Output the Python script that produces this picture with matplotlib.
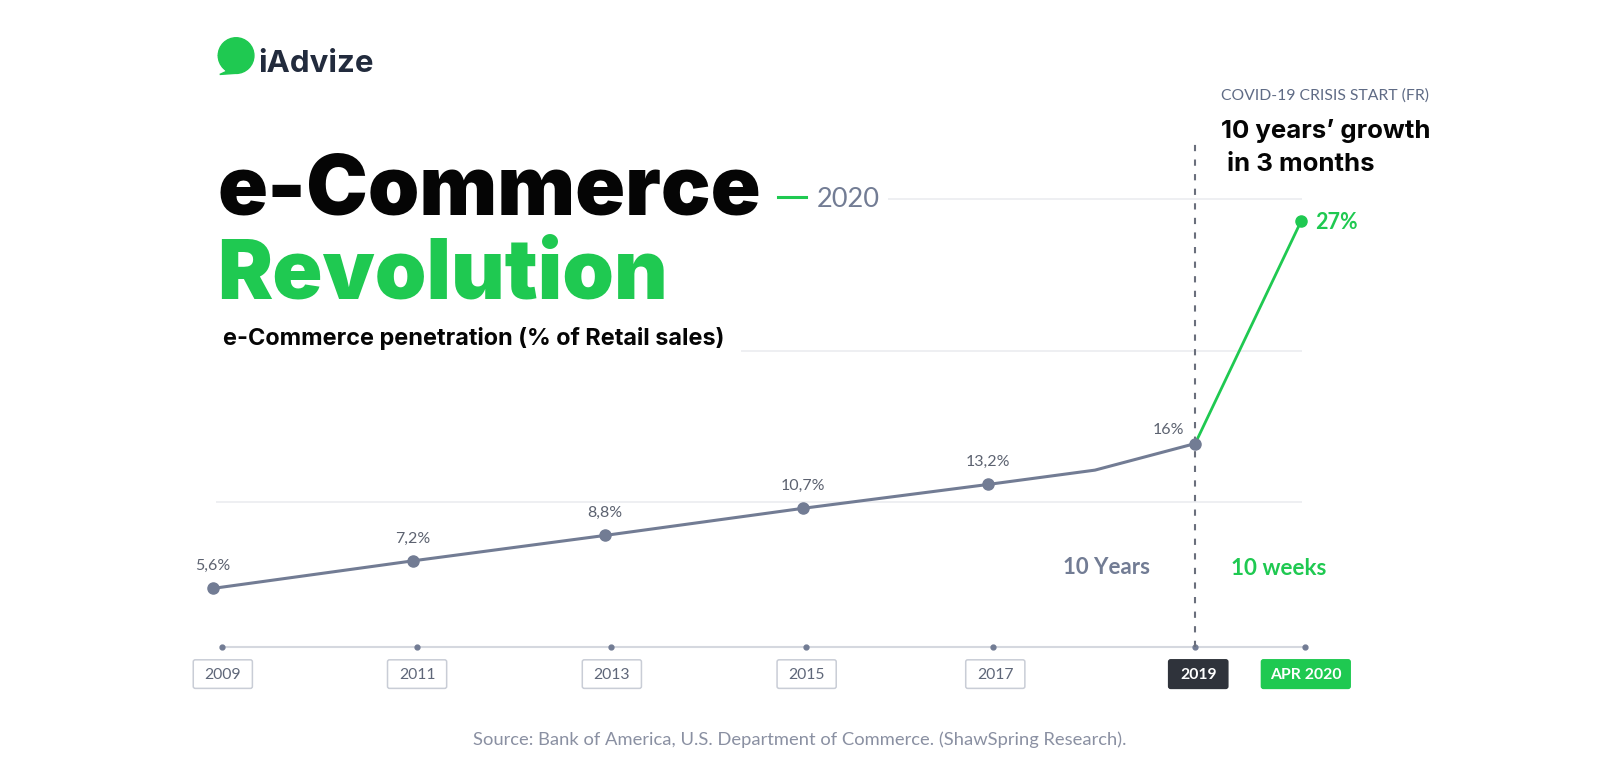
import matplotlib
matplotlib.use("Agg")
import matplotlib.pyplot as plt
from matplotlib.patches import Circle, FancyBboxPatch, Polygon
from matplotlib.transforms import Affine2D

# x read off the year ticks, y read off the gridlines (the chart is not drawn
# to scale so the printed labels are kept apart)
line_x = [2008.9, 2010.96, 2012.93, 2014.97, 2016.87, 2017.97, 2019.0]
line_y = [3.85, 5.68, 7.36, 9.16, 10.74, 11.69, 13.45]
marker_x = [2008.9, 2010.96, 2012.93, 2014.97, 2016.87, 2019.0]
marker_y = [3.85, 5.68, 7.36, 9.16, 10.74, 13.45]
value_labels = ["5,6%", "7,2%", "8,8%", "10,7%", "13,2%", "16%"]
crisis_x = [2019.0, 2020.09]
crisis_y = [13.45, 28.2]
crisis_label = "27%"
tick_x = [2009, 2011, 2013, 2015, 2016.92, 2019, 2020.13]
tick_labels = ["2009", "2011", "2013", "2015", "2017", "2019", "APR 2020"]
grid_levels = [9.6, 19.6, 29.66]

GREEN = "#1fc951"
GREY = "#727c94"
DARK = "#2f333b"
FONT = "Lato"
HEAVY = "Inter"

fig = plt.figure(figsize=(15.99, 7.72), dpi=100)
ax = fig.add_axes([0, 0, 1, 1])
ax.set_xlim(2009 - 218 / 95.4, 2009 + (1568 - 218) / 95.4)
ax.set_ylim(-(757 - 634) / 14.8, 634 / 14.8)
ax.set_axis_off()

# layout helper, positions in picture coordinates
px = Affine2D().scale(1 / 1568, -1 / 757).translate(0, 1) + fig.transFigure


def label(x, y, s, size, color, weight="normal", ha="left", va="center", family=FONT, **kw):
    ax.text(x, y, s, transform=px, fontsize=size, color=color, fontweight=weight,
            ha=ha, va=va, family=family, **kw)


# gridlines
for level, start in zip(grid_levels, [2008.95, 2014.34, 2015.85]):
    ax.plot([start, 2020.09], [level, level], color="#eeeff2", lw=1.4, zorder=1)

# baseline with tick dots
ax.plot([tick_x[0], tick_x[-1]], [0, 0], color="#d5d8df", lw=1.5, zorder=1)
ax.plot(tick_x, [0] * len(tick_x), "o", color=GREY, ms=3.5, zorder=2)

# crisis start marker
ax.plot([2019, 2019], [0, 33.6], color="#6a6f7c", lw=1.5, dashes=(3, 4), zorder=2)

# series
ax.plot(line_x, line_y, color=GREY, lw=2.2, zorder=3)
ax.plot(marker_x, marker_y, "o", color=GREY, ms=8, zorder=4)
ax.plot(crisis_x, crisis_y, color=GREEN, lw=2, zorder=3)
ax.plot(crisis_x[1], crisis_y[1], "o", color=GREEN, ms=8, zorder=4)

# value labels
for x, y, s in zip(marker_x, marker_y, value_labels):
    if s == "16%":
        ax.annotate(s, (x, y), xytext=(-8, 10), textcoords="offset points", ha="right", va="center",
                    fontsize=11.5, color="#5c6270", family=FONT)
    else:
        ax.annotate(s, (x, y), xytext=(0, 16), textcoords="offset points", ha="center", va="center",
                    fontsize=11.5, color="#5c6270", family=FONT)
ax.annotate(crisis_label, (crisis_x[1], crisis_y[1]), xytext=(10, -1), textcoords="offset points",
            va="center", fontsize=15.5, fontweight="bold", color=GREEN, family=FONT)

# tick label boxes
box_centres = [218.5, 409, 600, 791, 976, 1175, 1280.5]
box_widths = [58, 58, 58, 58, 58, 58, 87]
for c, w, s in zip(box_centres, box_widths, tick_labels):
    face, edge, col, weight = "white", "#c9cdd6", "#5f6779", "normal"
    if s == "2019":
        face, edge, col, weight = DARK, DARK, "white", "bold"
    if s == "APR 2020":
        face, edge, col, weight = GREEN, GREEN, "white", "bold"
    ax.add_patch(FancyBboxPatch((c - w / 2 + 2, 649), w - 4, 24, boxstyle="round,pad=2", transform=px,
                                facecolor=face, edgecolor=edge, lw=1.1, zorder=3))
    label(c, 662, s, 11.3, col, weight, ha="center", zorder=4)

# logo
ax.add_patch(Circle((231.5, 54.5), 17.5, transform=px, color=GREEN, zorder=3))
ax.add_patch(Polygon([(214, 54), (222, 70), (215.5, 73), (230, 72)], closed=True, transform=px, color=GREEN, zorder=3))
label(253, 71, "iAdvize", 22.5, "#222b3d", "bold", va="baseline", family=HEAVY)

# headline
label(213, 210, "e-Commerce", 59.4, "#050505", "black", va="baseline", family=HEAVY)
label(213, 293, "Revolution", 59.6, GREEN, "black", va="baseline", family=HEAVY)
ax.plot([2014.71, 2015.0], [29.8, 29.8], color=GREEN, lw=2.2)
label(801, 196, "2020", 19.5, GREY)
label(219, 332, "e-Commerce penetration (% of Retail sales)", 16.9, "#050505", "bold", family=HEAVY)

# annotations
label(1197, 94, "COVID-19 CRISIS START (FR)", 11.3, "#5f6b85")
label(1197, 128, "10 years\u2019 growth", 18.6, "#050505", "bold", family=HEAVY)
label(1197, 161, " in 3 months", 18.6, "#050505", "bold", family=HEAVY)
label(1085, 556, "10 Years", 16, GREY, "bold", ha="center")
label(1254, 557, "10 weeks", 16.2, GREEN, "bold", ha="center")
label(784, 725, "Source: Bank of America, U.S. Department of Commerce. (ShawSpring Research).", 13.2, "#8a90a2", ha="center")

fig.savefig("out.png", dpi=100, facecolor="white")
plt.close()
